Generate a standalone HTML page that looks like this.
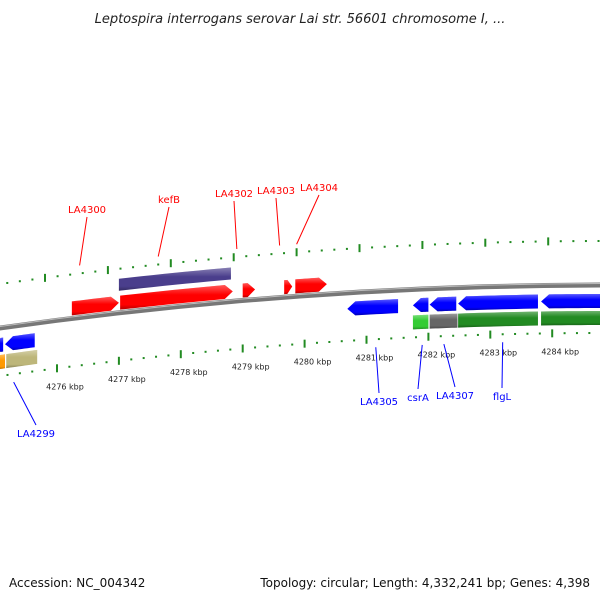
<!DOCTYPE html>
<html><head><meta charset="utf-8"><style>
body{margin:0;background:#fff}
svg text{font-family:"DejaVu Sans","Liberation Sans",sans-serif}
</style></head><body>
<svg id="c" width="600" height="600" viewBox="0 0 600 600">
<defs>
<linearGradient id="sh" x1="0" y1="0" x2="0" y2="1"><stop offset="0" stop-color="#fff" stop-opacity="0.35"/><stop offset="0.4" stop-color="#fff" stop-opacity="0"/><stop offset="0.8" stop-color="#000" stop-opacity="0"/><stop offset="1" stop-color="#000" stop-opacity="0.3"/></linearGradient>
</defs>
<text x="300" y="23" text-anchor="middle" font-size="13" font-style="italic" fill="#222">Leptospira interrogans serovar Lai str. 56601 chromosome I, ...</text>
<text x="9" y="587" font-size="12" fill="#111">Accession: NC_004342</text>
<text x="590" y="587" text-anchor="end" font-size="12" fill="#111">Topology: circular; Length: 4,332,241 bp; Genes: 4,398</text>
<g id="g"></g>
</svg>
<script>
// features: kbp start/end, lane, colour, strand
const featStart=[4276.24,4277.02,4279.0,4279.67,4279.85,4277.0,4275.02,4275.16,4280.69,4281.75,4282.02,4282.48,4283.82,4275.0,4275.18,4281.75,4282.02,4282.48,4283.82];
const featEnd=[4277.0,4278.84,4279.2,4279.8,4280.36,4278.81,4275.13,4275.64,4281.51,4282.0,4282.45,4283.77,4284.9,4275.16,4275.68,4282.0,4282.47,4283.77,4284.9];
const featLane=[-10,-10,-10,-10,-10,-28,17,17,16,16,16,16,16,34,34,33,33,33,33];
const featColor=["#f00","#f00","#f00","#f00","#f00","#4a3e8c","#00f","#00f","#00f","#00f","#00f","#00f","#00f","#f90","#bdb67a","#33cc33","#666","#228b22","#228b22"];
const featStrand=[1,1,1,1,1,0,-1,-1,-1,-1,-1,-1,-1,0,0,0,0,0,0];
const tickKbp=[4275,4276,4277,4278,4279,4280,4281,4282,4283,4284,4285];
const tickLabels=["4275 kbp","4276 kbp","4277 kbp","4278 kbp","4279 kbp","4280 kbp","4281 kbp","4282 kbp","4283 kbp","4284 kbp","4285 kbp"];
const labelNames=["LA4300","kefB","LA4302","LA4303","LA4304","LA4299","LA4305","csrA","LA4307","flgL"];
const labelKbp=[4276.55,4277.8,4279.05,4279.73,4280.0,4275.3,4281.15,4281.9,4282.25,4283.2];
const labelColor=["#f00","#f00","#f00","#f00","#f00","#00f","#00f","#00f","#00f","#00f"];
const labelSide=[1,1,1,1,1,-1,-1,-1,-1,-1];

const NS="http://www.w3.org/2000/svg";
const G=document.getElementById('g');
const X=k=>57+(k-4276)*61.9;          // feature / inner ring scale
const XO=k=>45+(k-4276)*62.9;          // outer ring scale
const F=x=>328-0.1417*x+0.0001167*x*x; // backbone curve
function mk(t,a){const e=document.createElementNS(NS,t);for(const k in a)e.setAttribute(k,a[k]);G.appendChild(e);return e;}
function curve(x0,x1,off){let p=[];for(let i=0;i<=10;i++){const x=x0+(x1-x0)*i/10;p.push([x,F(x)+off]);}return p;}
// backbone
let bp=curve(-5,605,0).map(p=>p.join(',')).join(' ');
let b=mk('polyline',{points:bp,fill:'none',stroke:'#777',"stroke-width":5});


mk('polyline',{points:curve(-5,605,-1.5).map(p=>p.join(',')).join(' '),fill:'none',stroke:'#bbb',"stroke-width":1});
// tick rings
for(let k=4275;k<=4285.01;k+=0.2){
  const kk=Math.round(k*10)/10, major=Math.abs(kk-Math.round(kk))<0.01;
  [[XO(kk),-44],[X(kk),48]].forEach(([x,off],j)=>{
    if(x<-2||x>602)return;
    const y=F(x)+off;
    const t=mk('rect',{x:x-1,y:major?y-4:y-1,width:2,height:major?8:2,fill:'#228b22'});
    
    
  });
}
tickKbp.forEach((k,i)=>{const x=X(k);if(x<0||x>600)return;
  const t=mk('text',{x:x+8,y:F(x)+69,"font-size":8,"text-anchor":"middle",fill:'#222'});t.textContent=tickLabels[i];
  
  });
// features
featStart.forEach((s,i)=>{
  const x0=X(s),x1=X(featEnd[i]),off=featLane[i],h=featStrand[i]===0&&featLane[i]<0?12:(featLane[i]>30?14:14),st=featStrand[i];
  const ah=Math.min(8,(x1-x0)*0.6);
  let top,bot,pts;
  if(st===1){top=curve(x0,x1-ah,off-h/2);bot=curve(x0,x1-ah,off+h/2).reverse();pts=[...top,[x1,F(x1)+off],...bot];}
  else if(st===-1){top=curve(x0+ah,x1,off-h/2);bot=curve(x0+ah,x1,off+h/2).reverse();pts=[[x0,F(x0)+off],...top,...bot];}
  else{top=curve(x0,x1,off-h/2);bot=curve(x0,x1,off+h/2).reverse();pts=[...top,...bot];}
  const ps=pts.map(p=>p.join(',')).join(' ');
  const e=mk('polygon',{points:ps,fill:featColor[i]});
  
  
  mk('polygon',{points:ps,fill:'url(#sh)'});
});
// labels
labelNames.forEach((n,i)=>{
  const up=labelSide[i]===1;
  const x=up?XO(labelKbp[i]):X(labelKbp[i]);
  const y0=up?F(x)-52:F(x)+56;
  const pos={LA4300:[87,213],kefB:[169,203],LA4302:[234,197],LA4303:[276,194],LA4304:[319,191],LA4299:[36,437],LA4305:[379,405],csrA:[418,401],LA4307:[455,399],flgL:[502,400]}[n];
  const ly=up?pos[1]+4:pos[1]-12;
  const l=mk('line',{x1:x,y1:y0,x2:pos[0],y2:ly,stroke:labelColor[i],"stroke-width":1});
  
  
  const t=mk('text',{x:pos[0],y:pos[1],"font-size":10,"text-anchor":"middle",fill:labelColor[i]});
  t.textContent=n;
  
  
});
</script>
</body></html>
